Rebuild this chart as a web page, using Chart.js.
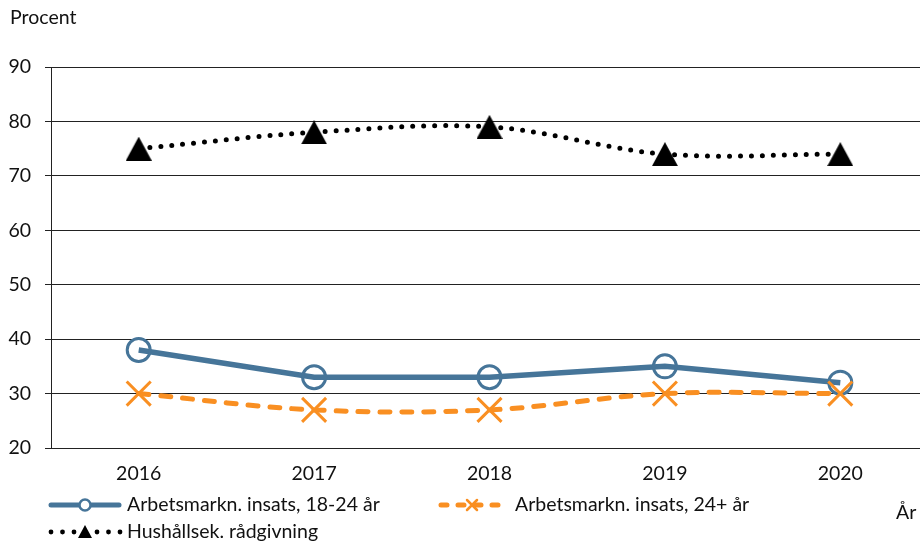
<!DOCTYPE html>
<html>
<head>
<meta charset="utf-8">
<script src="https://cdn.jsdelivr.net/npm/chart.js@4"></script>
<style>
  html, body { margin: 0; padding: 0; background: #fff; overflow: hidden; }
  #wrap { width: 930px; height: 544px; }
</style>
</head>
<body>
<div id="wrap"><canvas id="chart" width="930" height="544"></canvas></div>
<script>
// --- data ---
const years = ['2016', '2017', '2018', '2019', '2020'];
const arbUnga = [38, 33, 33, 35, 32];       // Arbetsmarkn. insats, 18-24 år
const arbAldre = [30, 27, 27, 30, 30];      // Arbetsmarkn. insats, 24+ år
const hushall = [75, 78, 79, 74, 74];       // Hushållsek. rådgivning
const yTicks = [20, 30, 40, 50, 60, 70, 80, 90];

const FONT = 'Lato, "Open Sans", sans-serif';
const FSIZE = 19.5;
const BLUE = '#467599';
const ORANGE = '#F98F22';

// triangel-markör centrerad på sin box (som i Excel)
function makeTriangle(w, h) {
  const cv = document.createElement('canvas');
  cv.width = w; cv.height = h;
  const t = cv.getContext('2d');
  t.fillStyle = '#000';
  t.beginPath(); t.moveTo(w / 2, 0); t.lineTo(w, h); t.lineTo(0, h); t.closePath(); t.fill();
  return cv;
}
const triBig = makeTriangle(26, 24);

// egen legend + axeltexter
const extraText = {
  id: 'extraText',
  afterDraw(chart) {
    const c = chart.ctx;
    c.save();
    c.fillStyle = '#111';
    c.font = FSIZE + 'px ' + FONT;
    c.textBaseline = 'middle';
    c.textAlign = 'left';
    c.fillText('Procent', 10, 18);
    c.fillText('År', 896, 513);

    // 1: blå linje med cirkel
    c.strokeStyle = BLUE; c.lineWidth = 5; c.lineCap = 'round';
    c.beginPath(); c.moveTo(51, 505); c.lineTo(119, 505); c.stroke();
    c.lineWidth = 2.5; c.fillStyle = '#fff';
    c.beginPath(); c.arc(85, 505, 5.5, 0, Math.PI * 2); c.fill(); c.stroke();
    c.fillStyle = '#111';
    c.fillText('Arbetsmarkn. insats, 18-24 år', 127, 505);

    // 2: orange streckad med kryss
    c.strokeStyle = ORANGE; c.lineWidth = 5; c.lineCap = 'round';
    c.setLineDash([6, 11]);
    c.beginPath(); c.moveTo(441, 505); c.lineTo(506, 505); c.stroke();
    c.setLineDash([]);
    c.lineWidth = 2.5;
    c.beginPath();
    c.moveTo(467, 500); c.lineTo(477, 510);
    c.moveTo(477, 500); c.lineTo(467, 510);
    c.stroke();
    c.fillStyle = '#111';
    c.fillText('Arbetsmarkn. insats, 24+ år', 515, 505);

    // 3: svart prickad med triangel
    c.fillStyle = '#000';
    for (let x = 51; x <= 120; x += 11.5) {
      if (Math.abs(x - 85) < 8) continue;
      c.beginPath(); c.arc(x, 532, 2.4, 0, Math.PI * 2); c.fill();
    }
    c.beginPath(); c.moveTo(85, 525); c.lineTo(92, 538); c.lineTo(78, 538); c.closePath(); c.fill();
    c.fillStyle = '#111';
    c.fillText('Hushållsek. rådgivning', 127, 532);
    c.restore();
  }
};

new Chart(document.getElementById('chart'), {
  type: 'line',
  data: {
    labels: years,
    datasets: [
      {
        label: 'Hushållsek. rådgivning',
        data: hushall,
        borderColor: '#000',
        borderWidth: 5,
        borderDash: [0, 11],
        borderCapStyle: 'round',
        pointStyle: triBig,
        pointRadius: 13,
        tension: 0.35,
        order: 0
      },
      {
        label: 'Arbetsmarkn. insats, 24+ år',
        data: arbAldre,
        borderColor: ORANGE,
        borderWidth: 5,
        borderDash: [10, 12],
        borderCapStyle: 'round',
        pointStyle: 'crossRot',
        pointRadius: 17,
        pointBorderColor: ORANGE,
        pointBorderWidth: 3,
        tension: 0.35,
        order: 1
      },
      {
        label: 'Arbetsmarkn. insats, 18-24 år',
        data: arbUnga,
        borderColor: BLUE,
        borderWidth: 5.5,
        pointStyle: 'circle',
        pointRadius: 11.5,
        pointBackgroundColor: 'rgba(0,0,0,0)',
        pointBorderColor: BLUE,
        pointBorderWidth: 3,
        tension: 0,
        order: 2
      }
    ]
  },
  options: {
    responsive: false,
    animation: false,
    layout: { autoPadding: false, padding: { top: 67, right: 2, bottom: 56, left: 0 } },
    plugins: { legend: { display: false }, tooltip: { enabled: false } },
    scales: {
      x: {
        offset: true,
        grid: { display: false, drawTicks: false },
        border: { display: true, color: '#222', width: 1 },
        ticks: { color: '#111', font: { family: FONT, size: FSIZE }, padding: 14, maxRotation: 0 },
        afterFit(s) { s.height = 40; s.paddingLeft = 0; s.paddingRight = 0; }
      },
      y: {
        min: 20, max: 90,
        afterBuildTicks(s) { s.ticks = yTicks.map(v => ({ value: v })); },
        grid: { color: '#222', lineWidth: 1, tickLength: 6 },
        border: { display: true, color: '#222', width: 1 },
        ticks: { color: '#111', font: { family: FONT, size: FSIZE }, padding: 14 },
        afterFit(s) { s.width = 51; }
      }
    }
  },
  plugins: [extraText]
});
</script>
</body>
</html>
